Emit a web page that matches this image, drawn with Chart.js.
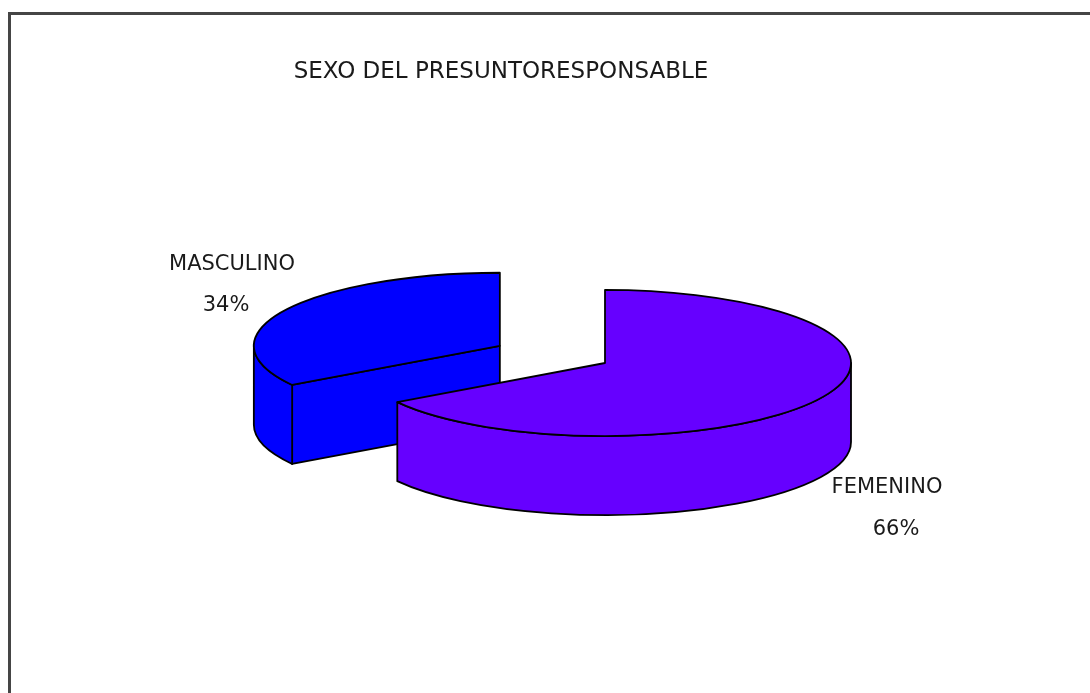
<!DOCTYPE html>
<html>
<head>
<meta charset="utf-8">
<style>
    html, body { margin: 0; padding: 0; background: #fff; overflow: hidden; }
    #wrap { position: relative; width: 1090px; height: 693px; }
    #frame { position: absolute; left: 8px; top: 12px; right: -10px; bottom: -10px;
             border-left: 3px solid #454545; border-top: 3px solid #454545; }
    canvas { position: absolute; left: 0; top: 0; }
</style>
<script src="https://cdn.jsdelivr.net/npm/chart.js@4.4.0/dist/chart.umd.min.js"></script>
</head>
<body>
<div id="wrap">
    <div id="frame"></div>
    <canvas id="pie" width="1090" height="693"></canvas>
</div>
<script>
// Datos
const chartTitle = 'SEXO DEL PRESUNTORESPONSABLE';
const categories = ['FEMENINO', 'MASCULINO'];
const values = [66, 34];

// Aspecto 3D
const TILT = 0.297;   // ry / rx
const DEPTH = 79;     // grosor del pastel en px

function drawSlice(ctx, s) {
    const ry = s.r * TILT;
    ctx.save();
    ctx.fillStyle = s.fill;
    ctx.strokeStyle = '#000';
    ctx.lineWidth = 1.8;
    ctx.lineJoin = 'round';

    // paredes radiales visibles
    [[s.a0, Math.cos(s.a0) < -1e-6], [s.a1, Math.cos(s.a1) > 1e-6]].forEach(([a, visible]) => {
        if (!visible) return;
        const ex = s.cx + s.r * Math.cos(a), ey = s.cy + ry * Math.sin(a);
        ctx.beginPath();
        ctx.moveTo(s.cx, s.cy);
        ctx.lineTo(ex, ey);
        ctx.lineTo(ex, ey + DEPTH);
        ctx.lineTo(s.cx, s.cy + DEPTH);
        ctx.closePath();
        ctx.fill();
        ctx.stroke();
    });

    // pared exterior (solo la mitad delantera)
    for (let k = -1; k <= 1; k++) {
        const f0 = 2 * Math.PI * k, f1 = f0 + Math.PI;
        const b0 = Math.max(s.a0, f0), b1 = Math.min(s.a1, f1);
        if (b1 <= b0) continue;
        ctx.beginPath();
        ctx.ellipse(s.cx, s.cy, s.r, ry, 0, b0, b1, false);
        ctx.ellipse(s.cx, s.cy + DEPTH, s.r, ry, 0, b1, b0, true);
        ctx.closePath();
        ctx.fill();
        ctx.stroke();
    }

    // cara superior
    ctx.beginPath();
    ctx.moveTo(s.cx, s.cy);
    ctx.ellipse(s.cx, s.cy, s.r, ry, 0, s.a0, s.a1, false);
    ctx.closePath();
    ctx.fill();
    ctx.stroke();
    ctx.restore();
}

const pie3d = {
    id: 'pie3d',
    beforeDatasetsDraw(chart) {
        const meta = chart.getDatasetMeta(0);
        const slices = meta.data.map((arc, i) => {
            const p = arc.getProps(['x', 'y', 'startAngle', 'endAngle', 'outerRadius'], true);
            const mid = (p.startAngle + p.endAngle) / 2;
            const off = arc.options.offset || 0;
            return {
                i: i, r: p.outerRadius, a0: p.startAngle, a1: p.endAngle,
                cx: p.x + off * Math.cos(mid),
                cy: p.y + off * Math.sin(mid) * TILT,
                fill: arc.options.backgroundColor
            };
        }).sort((a, b) => a.cy - b.cy);
        slices.forEach(s => drawSlice(chart.ctx, s));
        return false;
    },
    afterDraw(chart) {
        const ctx = chart.ctx;
        const total = values.reduce((a, b) => a + b, 0);
        const pct = values.map(v => Math.round(v / total * 100) + '%');
        ctx.save();
        ctx.fillStyle = '#1a1a1a';
        ctx.textAlign = 'center';
        ctx.textBaseline = 'alphabetic';
        ctx.font = '23px "DejaVu Sans"';
        ctx.fillText(chartTitle, 501, 78);
        ctx.font = '21px "DejaVu Sans"';
        // FEMENINO
        ctx.fillText(categories[0], 887, 493);
        ctx.fillText(pct[0], 896, 535);
        // MASCULINO
        ctx.fillText(categories[1], 232, 270);
        ctx.fillText(pct[1], 226, 311);
        ctx.restore();
    }
};

new Chart(document.getElementById('pie'), {
    type: 'pie',
    data: {
        labels: categories,
        datasets: [{
            data: values,
            backgroundColor: ['#6600FF', '#0000FF'],
            borderColor: '#000',
            borderWidth: 1,
            offset: [0, 120],
            radius: 246
        }]
    },
    options: {
        responsive: false,
        animation: false,
        events: [],
        layout: { padding: { left: 120, right: 0, top: 33, bottom: 0 } },
        plugins: {
            legend: { display: false },
            title: { display: false },
            tooltip: { enabled: false }
        }
    },
    plugins: [pie3d]
});
</script>
</body>
</html>
